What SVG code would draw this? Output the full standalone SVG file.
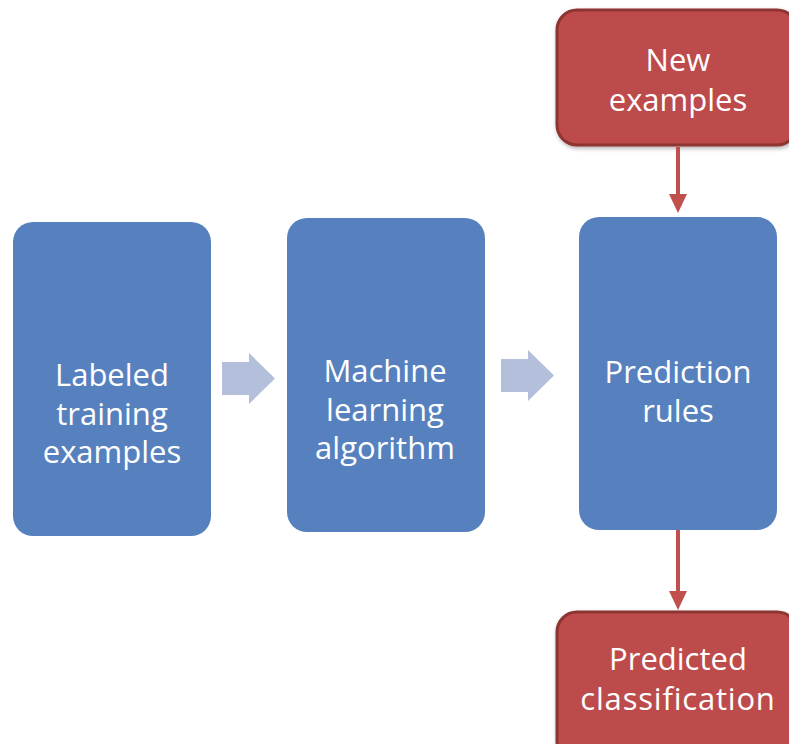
<svg xmlns="http://www.w3.org/2000/svg" width="789" height="744" viewBox="0 0 789 744">
<style>
.blue{fill:#5781be;}
.red{fill:#bd4c4c;stroke:#8e3433;stroke-width:3;}
.blk{fill:#b3bfdb;}
.t{font-family:"Open Sans","DejaVu Sans",sans-serif;font-size:31px;fill:#ffffff;text-anchor:middle;}
.ln{stroke:#c0504d;stroke-width:4;fill:none;}
.hd{fill:#c0504d;}
</style>
<defs>
<filter id="sh" x="-10%" y="-10%" width="130%" height="130%">
<feDropShadow dx="1" dy="2" stdDeviation="2" flood-color="#000" flood-opacity="0.3"/>
</filter>
</defs>
<g id="labeled">
<rect class="blue" x="13" y="222" width="198" height="314" rx="20"/>
<text class="t" x="112" y="386">Labeled</text>
<text class="t" x="112" y="424.5">training</text>
<text class="t" x="112" y="463">examples</text>
</g>
<g id="ml">
<rect class="blue" x="287" y="218" width="198" height="314" rx="20"/>
<text class="t" x="385" y="382">Machine</text>
<text class="t" x="385" y="420.5">learning</text>
<text class="t" x="385" y="459">algorithm</text>
</g>
<g id="rules">
<rect class="blue" x="579" y="217" width="198" height="313" rx="20"/>
<text class="t" x="678" y="383">Prediction</text>
<text class="t" x="678" y="421.5">rules</text>
</g>
<g id="new">
<rect class="red" x="557" y="10" width="240" height="135" rx="20" filter="url(#sh)"/>
<text class="t" x="678" y="71">New</text>
<text class="t" x="678" y="110.5">examples</text>
</g>
<g id="predicted">
<rect class="red" x="557" y="612" width="240" height="150" rx="20" filter="url(#sh)"/>
<text class="t" x="678" y="670">Predicted</text>
<text class="t" x="678" y="709.5" letter-spacing="0.8">classification</text>
</g>
<g id="connectors">
<polygon class="blk" points="222,362 249,362 249,353 275,378.5 249,404 249,395 222,395"/>
<polygon class="blk" points="501,359 528,359 528,350 554,375.5 528,401 528,392 501,392"/>
<line class="ln" x1="678" y1="147" x2="678" y2="195"/>
<polygon class="hd" points="669,194 687,194 678,213"/>
<line class="ln" x1="678" y1="530" x2="678" y2="592"/>
<polygon class="hd" points="669,591 687,591 678,610"/>
</g>
</svg>
